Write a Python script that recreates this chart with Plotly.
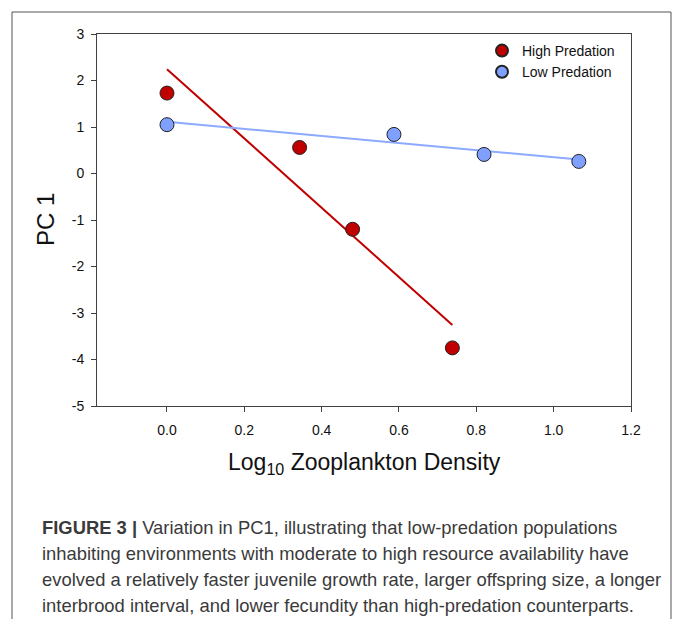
import numpy as np
import plotly.graph_objects as go

# Data
high_x = [0.0, 0.343, 0.48, 0.738]
high_y = [1.73, 0.56, -1.20, -3.75]
low_x = [0.0, 0.587, 0.82, 1.065]
low_y = [1.05, 0.84, 0.41, 0.26]

x_ticks = [0.0, 0.2, 0.4, 0.6, 0.8, 1.0, 1.2]
x_tick_labels = ["0.0", "0.2", "0.4", "0.6", "0.8", "1.0", "1.2"]
y_ticks = [3, 2, 1, 0, -1, -2, -3, -4, -5]
y_tick_labels = ["3", "2", "1", "0", "-1", "-2", "-3", "-4", "-5"]

RED = "#C00000"
BLUE_M = "#7FA0FF"
BLUE_L = "#8CAAFF"

W, H = 675, 619
L, R, T, B = 97, 631, 34, 406

def fit(xs, ys):
    m, c = np.polyfit(xs, ys, 1)
    xx = np.array([min(xs), max(xs)])
    return xx, m * xx + c

hx, hy = fit(high_x, high_y)
lx, ly = fit(low_x, low_y)

fig = go.Figure()
fig.add_trace(go.Scatter(x=hx, y=hy, mode="lines", line=dict(color=RED, width=2), showlegend=False, hoverinfo="skip"))
fig.add_trace(go.Scatter(x=lx, y=ly, mode="lines", line=dict(color=BLUE_L, width=2), showlegend=False, hoverinfo="skip"))
fig.add_trace(go.Scatter(x=high_x, y=high_y, mode="markers", name="High Predation",
                         marker=dict(color=RED, size=14, line=dict(color="#222222", width=1))))
fig.add_trace(go.Scatter(x=low_x, y=low_y, mode="markers", name="Low Predation",
                         marker=dict(color=BLUE_M, size=14, line=dict(color="#222222", width=1))))

pw, ph = R - L, B - T
def px(x):
    return (x - L) / pw
def py(y):
    return (B - y) / ph

FONT = "Liberation Sans, Arial"
axis_common = dict(showline=True, linecolor="#404040", linewidth=1, mirror=True,
                   ticks="outside", ticklen=5, tickcolor="#404040", showgrid=False,
                   zeroline=False, tickfont=dict(family=FONT, size=14, color="#111111"))

fig.update_layout(
    width=W, height=H,
    margin=dict(l=L, r=W - R, t=T, b=H - B),
    paper_bgcolor="white", plot_bgcolor="white",
    xaxis=dict(range=[-0.181, 1.2], tickvals=x_ticks, ticktext=x_tick_labels,
               ticklabelstandoff=6, **axis_common),
    yaxis=dict(range=[-5, 3], tickvals=y_ticks, ticktext=y_tick_labels,
               ticklabelstandoff=4, **axis_common),
    legend=dict(x=px(482), y=py(35), xanchor="left", yanchor="top", bgcolor="rgba(0,0,0,0)",
                font=dict(family=FONT, size=14, color="#111111"),
                tracegroupgap=0, itemsizing="constant"),
    font=dict(family=FONT),
)

# axis titles
fig.add_annotation(x=0.5, y=py(463), xref="paper", yref="paper", showarrow=False,
                   text="Log<sub>10</sub> Zooplankton Density",
                   font=dict(family=FONT, size=23, color="#111111"),
                   xanchor="center", yanchor="middle")
fig.add_annotation(x=px(45), y=0.5, xref="paper", yref="paper", showarrow=False,
                   text="PC 1", textangle=-90,
                   font=dict(family=FONT, size=24, color="#111111"),
                   xanchor="center", yanchor="middle")

# caption
caption_lines = [
    "<b>FIGURE 3 |</b> Variation in PC1, illustrating that low-predation populations",
    "inhabiting environments with moderate to high resource availability have",
    "evolved a relatively faster juvenile growth rate, larger offspring size, a longer",
    "interbrood interval, and lower fecundity than high-predation counterparts.",
]
caption_y = [527, 553, 579, 605]
for t, yy in zip(caption_lines, caption_y):
    fig.add_annotation(x=px(40), y=py(yy), xref="paper", yref="paper", showarrow=False,
                       text=t, xanchor="left", yanchor="middle", align="left",
                       font=dict(family=FONT, size=18.4, color="#3a3a3a"))

# outer frame (open at bottom)
fig.add_shape(type="path", xref="paper", yref="paper",
              path=f"M {px(12)},{py(640)} L {px(12)},{py(12)} L {px(671)},{py(12)} L {px(671)},{py(640)}",
              line=dict(color="#555555", width=1))

fig.write_html("out.html", config={"displayModeBar": False},
               post_script="document.body.style.margin='0';")
